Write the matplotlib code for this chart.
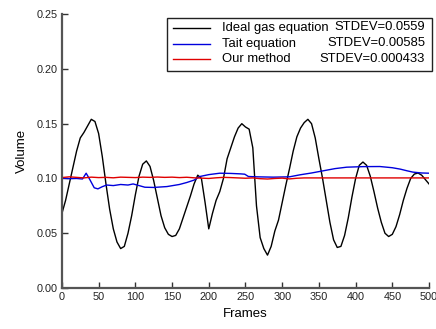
import matplotlib
matplotlib.use('Agg')
import matplotlib.pyplot as plt
from matplotlib.patches import Rectangle
from matplotlib.lines import Line2D

plt.rcParams['font.family'] = ['Liberation Sans', 'DejaVu Sans']

# Ideal gas equation (black)
ideal_frames = list(range(0, 501, 5))
ideal_volume = [
    0.068, 0.080, 0.095, 0.110, 0.125, 0.137, 0.142, 0.148, 0.154, 0.152,
    0.141, 0.120, 0.095, 0.072, 0.054, 0.042, 0.036, 0.038, 0.050, 0.066,
    0.085, 0.102, 0.113, 0.116, 0.111, 0.098, 0.082, 0.066, 0.055, 0.049,
    0.047, 0.048, 0.054, 0.064, 0.074, 0.084, 0.095, 0.103, 0.100, 0.078,
    0.054, 0.068, 0.080, 0.088, 0.100, 0.118, 0.128, 0.138, 0.146, 0.150,
    0.147, 0.145, 0.128, 0.075, 0.046, 0.036, 0.030, 0.038, 0.052, 0.062,
    0.078, 0.094, 0.109, 0.125, 0.138, 0.146, 0.151, 0.154, 0.150, 0.137,
    0.118, 0.100, 0.080, 0.060, 0.044, 0.037, 0.038, 0.048, 0.064, 0.083,
    0.100, 0.112, 0.115, 0.112, 0.102, 0.088, 0.073, 0.060, 0.050, 0.047,
    0.049, 0.056, 0.067, 0.080, 0.091, 0.100, 0.104, 0.105, 0.103, 0.099,
    0.095,
]

# Tait equation (blue)
tait_frames = [0, 10, 20, 28, 33, 38, 44, 49, 55, 61, 70, 80, 90, 97, 105, 113,
               125, 143, 160, 170, 180, 188, 200, 215, 230, 243, 249, 254, 265,
               288, 310, 324, 340, 356, 372, 388, 410, 433, 450, 461, 470, 478,
               490, 500]
tait_volume = [0.1003, 0.0998, 0.1000, 0.0995, 0.1048, 0.0990, 0.0915, 0.0905,
               0.0925, 0.0940, 0.0935, 0.0945, 0.0940, 0.0950, 0.0935, 0.0920,
               0.0918, 0.0926, 0.0945, 0.0963, 0.0985, 0.1018, 0.1035, 0.1048,
               0.1046, 0.1042, 0.1039, 0.1018, 0.1015, 0.1012, 0.1015, 0.1033,
               0.1050, 0.1070, 0.1090, 0.1103, 0.1108, 0.1109, 0.1098, 0.1085,
               0.1070, 0.1058, 0.1050, 0.1048]

# Our method (red)
ours_frames = list(range(0, 501, 10))
ours_volume = [
    0.1008, 0.1015, 0.1010, 0.1005, 0.1012, 0.1008, 0.1010, 0.1006, 0.1012, 0.1010,
    0.1008, 0.1012, 0.1010, 0.1013, 0.1010, 0.1012, 0.1008, 0.1011, 0.1006, 0.1003,
    0.1000, 0.1006, 0.1010, 0.1008, 0.1005, 0.1002, 0.1005, 0.0998, 0.0995, 0.1000,
    0.1003, 0.0996, 0.1002, 0.1005, 0.1005, 0.1005, 0.1005, 0.1005, 0.1005, 0.1005,
    0.1005, 0.1005, 0.1005, 0.1005, 0.1005, 0.1005, 0.1005, 0.1005, 0.1005, 0.1005,
    0.1005,
]

legend_names = ['Ideal gas equation', 'Tait equation', 'Our method']
legend_stdev = ['STDEV=0.0559', 'STDEV=0.00585', 'STDEV=0.000433']
line_colors = ['black', '#0000dd', '#e00000']

fig = plt.figure(figsize=(4.36, 3.29), dpi=100)
ax = fig.add_axes([0.142, 0.1246, 0.842, 0.8324])

ax.plot(ideal_frames, ideal_volume, color=line_colors[0], linewidth=1.0)
ax.plot(tait_frames, tait_volume, color=line_colors[1], linewidth=1.0)
ax.plot(ours_frames, ours_volume, color=line_colors[2], linewidth=1.0)

ax.set_xlim(0, 500)
ax.set_ylim(0, 0.25)
ax.set_xticks(range(0, 501, 50))
ax.set_yticks([0, 0.05, 0.10, 0.15, 0.20, 0.25])
ax.set_yticklabels(['0.00', '0.05', '0.10', '0.15', '0.20', '0.25'])
ax.tick_params(direction='in', length=4, width=1, colors='#333333',
               labelsize=7.8, labelcolor='#222222', pad=3)
ax.spines['top'].set_visible(False)
ax.spines['right'].set_visible(False)
for s in ['left', 'bottom']:
    ax.spines[s].set_color('#555555')
    ax.spines[s].set_linewidth(1.6)

ax.set_xlabel('Frames', fontsize=9.5, labelpad=4)
ax.set_ylabel('Volume', fontsize=9.5, labelpad=6)


def px(x, y):
    # reference pixel position -> figure fraction
    return (x / 436, (329 - y) / 329)


# hand-built legend so the STDEV column is right-aligned
box = Rectangle(px(167, 71), (432 - 167) / 436, (71 - 18) / 329,
                transform=fig.transFigure, facecolor='white',
                edgecolor='#222222', linewidth=1.0, zorder=5)
fig.patches.append(box)
rows_y = [27.5, 43.5, 59]
for name, sd, c, yy in zip(legend_names, legend_stdev, line_colors, rows_y):
    x0, y0 = px(173, yy)
    x1, _ = px(210, yy)
    fig.lines.append(Line2D([x0, x1], [y0, y0], color=c, linewidth=1.0,
                            transform=fig.transFigure, zorder=6))
    tx, ty = px(222, yy)
    fig.text(tx, ty, name, ha='left', va='center', fontsize=9.4, zorder=7)
    rx, _ = px(425, yy)
    fig.text(rx, ty, sd, ha='right', va='center', fontsize=9.4, zorder=7)

fig.savefig('out.png', dpi=100)
